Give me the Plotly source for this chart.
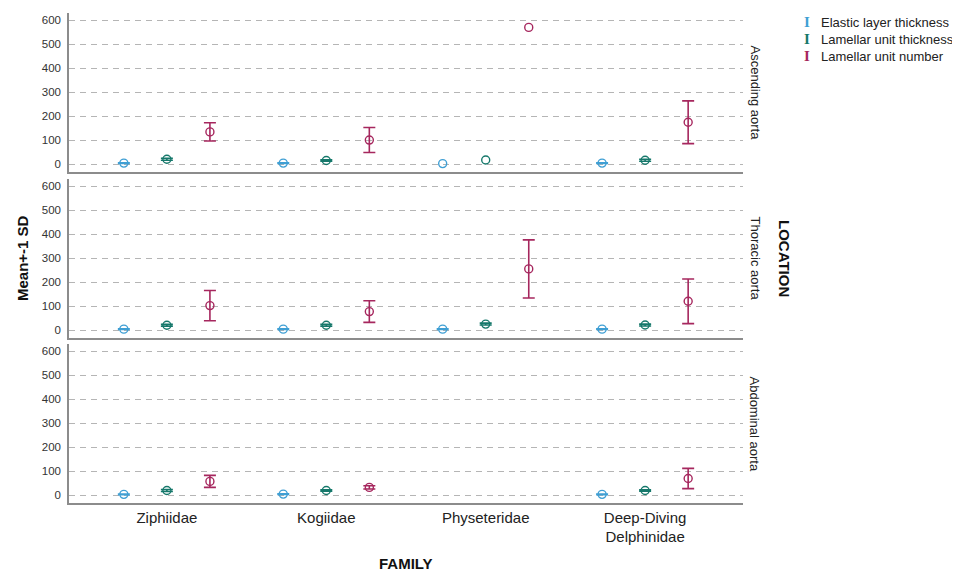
import plotly.graph_objects as go
from plotly.subplots import make_subplots

families = ["Ziphiidae", "Kogiidae", "Physeteridae", "Deep-Diving<br>Delphinidae"]
locations = ["Ascending aorta", "Thoracic aorta", "Abdominal aorta"]
series_names = ["Elastic layer thickness", "Lamellar unit thickness", "Lamellar unit number"]
series_colors = ["#3f9fd4", "#16786b", "#a6275e"]
series_offsets = [-0.27, 0.0, 0.27]

# mean / SD per location, one value per family (None = no data / no SD)
elastic_mean = {
    "Ascending aorta": [5, 5, 3, 5],
    "Thoracic aorta": [5, 5, 5, 5],
    "Abdominal aorta": [4, 5, None, 4],
}
elastic_sd = {
    "Ascending aorta": [1.5, 1.5, None, 1.5],
    "Thoracic aorta": [1.5, 1.5, 1.5, 1.5],
    "Abdominal aorta": [1.5, 1.5, None, 1.5],
}
lamellar_thk_mean = {
    "Ascending aorta": [21, 16, 18, 17],
    "Thoracic aorta": [21, 21, 26, 22],
    "Abdominal aorta": [20, 20, None, 20],
}
lamellar_thk_sd = {
    "Ascending aorta": [4, 3, None, 4],
    "Thoracic aorta": [4, 4, 4, 4],
    "Abdominal aorta": [4, 3, None, 3],
}
lamellar_num_mean = {
    "Ascending aorta": [135, 101, 570, 175],
    "Thoracic aorta": [103, 78, 256, 121],
    "Abdominal aorta": [58, 33, None, 70],
}
lamellar_num_sd = {
    "Ascending aorta": [38, 52, None, 89],
    "Thoracic aorta": [63, 45, 121, 93],
    "Abdominal aorta": [25, 7, None, 42],
}
y_ticks = [0, 100, 200, 300, 400, 500, 600]

means = [elastic_mean, lamellar_thk_mean, lamellar_num_mean]
sds = [elastic_sd, lamellar_thk_sd, lamellar_num_sd]

fig = make_subplots(rows=3, cols=1, shared_xaxes=True, vertical_spacing=0.02)

for r, loc in enumerate(locations, start=1):
    for s in range(3):
        m = means[s][loc]
        sd = sds[s][loc]
        xe, ye, ee, xn, yn = [], [], [], [], []
        for i in range(len(families)):
            if m[i] is None:
                continue
            if sd[i] is None:
                xn.append(i + series_offsets[s]); yn.append(m[i])
            else:
                xe.append(i + series_offsets[s]); ye.append(m[i]); ee.append(sd[i])
        mk = dict(symbol="circle-open", size=8, color=series_colors[s], line=dict(width=1.4))
        fig.add_trace(go.Scatter(
            x=xe, y=ye, mode="markers", marker=mk, showlegend=False,
            error_y=dict(type="data", array=ee, visible=True, color=series_colors[s],
                         thickness=1.6, width=6),
            name=series_names[s]), row=r, col=1)
        if xn:
            fig.add_trace(go.Scatter(x=xn, y=yn, mode="markers", marker=mk,
                                     showlegend=False, name=series_names[s]), row=r, col=1)

# domains (paper fractions) for the three panels
domains = [[0.6755, 1.0], [0.3367, 0.661], [0.0, 0.3245]]
axis_font = dict(family="Liberation Sans, Arial, sans-serif", size=11.5, color="#333")
for r in range(3):
    yname = "yaxis" if r == 0 else f"yaxis{r+1}"
    xname = "xaxis" if r == 0 else f"xaxis{r+1}"
    fig.layout[yname].update(
        domain=domains[r], range=[-32, 630], tickvals=y_ticks,
        showgrid=True, gridcolor="#b5b5b5", griddash="6px,5px", gridwidth=1,
        zeroline=False, showline=True, linecolor="#8c8c8c", linewidth=1.5,
        ticks="", tickfont=axis_font, ticklabelstandoff=4)
    fig.layout[xname].update(
        range=[-0.614, 3.614], showgrid=False, zeroline=False,
        showline=True, linecolor="#8c8c8c", linewidth=1.5,
        tickvals=list(range(len(families))), ticktext=families,
        showticklabels=(r == 2), ticks="",
        tickfont=dict(family="Liberation Sans, Arial, sans-serif", size=15, color="#222"))

ann = []
for r, loc in enumerate(locations):
    ann.append(dict(text=loc, xref="paper", yref="paper", x=1.0, xshift=12,
                    y=(domains[r][0] + domains[r][1]) / 2, textangle=90, showarrow=False,
                    xanchor="center", yanchor="middle",
                    font=dict(family="Liberation Sans, Arial, sans-serif", size=13, color="#222")))
ann.append(dict(text="<b>Mean+-1 SD</b>", xref="paper", yref="paper", x=0, xshift=-47,
                y=0.5, textangle=-90, showarrow=False, xanchor="center", yanchor="middle",
                font=dict(family="Liberation Sans, Arial, sans-serif", size=15, color="#111")))
ann.append(dict(text="<b>LOCATION</b>", xref="paper", yref="paper", x=1.0, xshift=42,
                y=0.5, textangle=90, showarrow=False, xanchor="center", yanchor="middle",
                font=dict(family="Liberation Sans, Arial, sans-serif", size=15, color="#111")))
ann.append(dict(text="<b>FAMILY</b>", xref="paper", yref="paper", x=0.5, y=0, yshift=-70,
                showarrow=False, xanchor="center", yanchor="bottom", borderpad=0,
                font=dict(family="Liberation Sans, Arial, sans-serif", size=15, color="#111")))
legend_y = [14, 31, 48]
for s in range(3):
    ann.append(dict(text="<b>I</b>", xref="paper", yref="paper", x=1.0, xshift=64, y=1.0,
                    yshift=5 - legend_y[s], xanchor="center", yanchor="middle",
                    showarrow=False,
                    font=dict(family="Liberation Serif, serif", size=15, color=series_colors[s])))
    ann.append(dict(text=series_names[s], xref="paper", yref="paper", x=1.0, xshift=76,
                    y=1.0, yshift=5 - legend_y[s], xanchor="left", yanchor="middle",
                    showarrow=False,
                    font=dict(family="Liberation Sans, Arial, sans-serif", size=13, color="#222")))

# page body adds an 8px margin, so the figure is 952x566 to fill the 960x574 window
fig.update_layout(
    width=952, height=566, margin=dict(l=61, r=217, t=5, b=71),
    paper_bgcolor="white", plot_bgcolor="white", showlegend=False,
    annotations=ann)

fig.write_html("out.html")
